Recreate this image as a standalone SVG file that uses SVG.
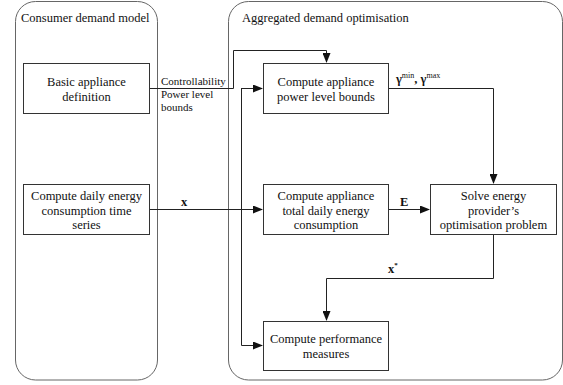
<svg xmlns="http://www.w3.org/2000/svg" width="563" height="385" viewBox="0 0 563 385">
<style>
text{font-family:"Liberation Serif","Times New Roman",serif;font-size:12.5px;fill:#111}
.c{text-anchor:middle}
.cont{fill:none;stroke:#666;stroke-width:1}
.box{fill:#fff;stroke:#333;stroke-width:1}
.ln{fill:none;stroke:#222;stroke-width:1}
.lbl{font-size:11px}
.b{font-weight:bold}
</style>
<defs>
<marker id="ah" markerWidth="10" markerHeight="8" refX="9" refY="4" orient="auto" markerUnits="userSpaceOnUse">
<path d="M0,0 L10,4 L0,8 Z" fill="#111"/>
</marker>
</defs>
<rect width="563" height="385" fill="#fff"/>
<g id="consumer-demand-model">
<rect class="cont" x="15.5" y="1.5" width="142" height="378.5" rx="20" ry="20"/>
<text x="21" y="22">Consumer demand model</text>
</g>
<g id="aggregated-demand-optimisation">
<rect class="cont" x="228.5" y="1.5" width="334" height="378.5" rx="20" ry="20"/>
<text x="242" y="22">Aggregated demand optimisation</text>
</g>
<g id="connectors">
<path class="ln" d="M149,88.5 H233.5 V50.5 H326.5 V62" marker-end="url(#ah)"/>
<path class="ln" d="M149,209.5 H262" marker-end="url(#ah)"/>
<path class="ln" d="M262,88.5 H241.5 V345.5 H262" marker-end="url(#ah)"/>
<path class="ln" d="M241,88.5 H262" marker-end="url(#ah)"/>
<path class="ln" d="M388,88.5 H493.5 V183" marker-end="url(#ah)"/>
<path class="ln" d="M388,209.5 H429" marker-end="url(#ah)"/>
<path class="ln" d="M493.5,234 V278.5 H326.5 V320" marker-end="url(#ah)"/>
<text class="lbl" x="161" y="85">Controllability</text>
<text class="lbl" x="161" y="98">Power level</text>
<text class="lbl" x="161" y="111">bounds</text>
<text class="b" x="181" y="206">x</text>
<text class="b" x="400" y="206">E</text>
<text class="b" x="388" y="273">x<tspan font-size="7" dy="-6">*</tspan></text>
<text class="b" x="396" y="83">γ<tspan font-size="8" font-weight="normal" dy="-5">min</tspan><tspan dy="5">, γ</tspan><tspan font-size="8" font-weight="normal" dy="-5">max</tspan></text>
</g>
<g id="basic-appliance-definition">
<rect class="box" x="23.5" y="63.5" width="126" height="50"/>
<text class="c" x="86.5" y="86">Basic appliance</text>
<text class="c" x="86.5" y="101">definition</text>
</g>
<g id="compute-daily-energy">
<rect class="box" x="23.5" y="184.5" width="126" height="50"/>
<text class="c" x="86.5" y="200">Compute daily energy</text>
<text class="c" x="86.5" y="215">consumption time</text>
<text class="c" x="86.5" y="229">series</text>
</g>
<g id="compute-power-level-bounds">
<rect class="box" x="263.5" y="63.5" width="125" height="50"/>
<text class="c" x="326" y="86">Compute appliance</text>
<text class="c" x="326" y="101">power level bounds</text>
</g>
<g id="compute-total-daily-energy">
<rect class="box" x="263.5" y="184.5" width="125" height="50"/>
<text class="c" x="326" y="200">Compute appliance</text>
<text class="c" x="326" y="215">total daily energy</text>
<text class="c" x="326" y="229">consumption</text>
</g>
<g id="solve-optimisation-problem">
<rect class="box" x="430.5" y="184.5" width="126" height="50"/>
<text class="c" x="493.5" y="200">Solve energy</text>
<text class="c" x="493.5" y="215">provider’s</text>
<text class="c" x="493.5" y="229">optimisation problem</text>
</g>
<g id="compute-performance-measures">
<rect class="box" x="263.5" y="321.5" width="125" height="49"/>
<text class="c" x="326" y="343">Compute performance</text>
<text class="c" x="326" y="358">measures</text>
</g>
</svg>
